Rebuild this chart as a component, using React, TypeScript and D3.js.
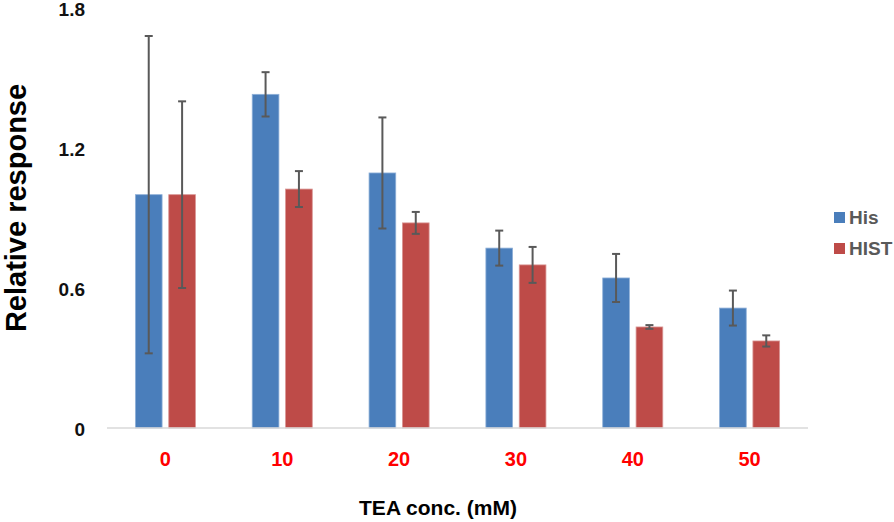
import * as d3 from 'd3'

const categories = ['0', '10', '20', '30', '40', '50']
const seriesNames = ['His', 'HIST']
const hisValues = [1.0, 1.43, 1.093, 0.771, 0.643, 0.514]
const hisErrors = [0.68, 0.095, 0.238, 0.075, 0.103, 0.075]
const histValues = [1.0, 1.024, 0.879, 0.699, 0.433, 0.373]
const histErrors = [0.4, 0.077, 0.047, 0.077, 0.008, 0.024]
const yTicks = [0, 0.6, 1.2, 1.8]

const colors: Record<string, string> = { His: '#4A7EBB', HIST: '#BE4B48' }
const strokes: Record<string, string> = { His: '#8FB0D8', HIST: '#D99694' }

const width = 894
const height = 522
const font = '"Liberation Sans", Arial, sans-serif'

export default function App() {
  const x = d3.scaleBand<string>().domain(categories).range([107, 808]).paddingInner(0.486).paddingOuter(0.243)
  const xSub = d3.scaleBand<string>().domain(seriesNames).range([0, x.bandwidth()]).paddingInner(0.2)
  const y = d3.scaleLinear().domain([0, 1.8]).range([428, 8])

  const series = [
    { name: 'His', values: hisValues, errors: hisErrors },
    { name: 'HIST', values: histValues, errors: histErrors },
  ]

  return (
    <svg width={width} height={height} style={{ position: 'absolute', left: 0, top: 0, background: '#fff' }} fontFamily={font}>
      {/* y tick labels */}
      {yTicks.map((t) => (
        <text key={t} x={85} y={y(t) + 8} textAnchor="end" fontSize={19} fontWeight="bold" fill="#111">
          {d3.format('~g')(t)}
        </text>
      ))}
      <text
        transform={`translate(26,${208}) rotate(-90)`}
        textAnchor="middle"
        fontSize={29}
        fontWeight="bold"
        fill="#000"
      >
        Relative response
      </text>

      {series.map((s) =>
        s.values.map((v, i) => {
          const bx = (x(categories[i]) ?? 0) + (xSub(s.name) ?? 0)
          return (
            <rect
              key={s.name + i}
              x={bx}
              y={y(v)}
              width={xSub.bandwidth()}
              height={y(0) - y(v)}
              fill={colors[s.name]}
              stroke={strokes[s.name]}
              strokeWidth={0.8}
            />
          )
        })
      )}

      <line x1={107} x2={808} y1={y(0)} y2={y(0)} stroke="#D9D9D9" strokeWidth={1.5} />

      {series.map((s) =>
        s.values.map((v, i) => {
          const cx = (x(categories[i]) ?? 0) + (xSub(s.name) ?? 0) + xSub.bandwidth() / 2
          const top = y(v + s.errors[i])
          const bot = y(v - s.errors[i])
          return (
            <g key={'e' + s.name + i} stroke="#595959" strokeWidth={2}>
              <line x1={cx} x2={cx} y1={top} y2={bot} />
              <line x1={cx - 4} x2={cx + 4} y1={top} y2={top} />
              <line x1={cx - 4} x2={cx + 4} y1={bot} y2={bot} />
            </g>
          )
        })
      )}

      {categories.map((c) => (
        <text
          key={c}
          x={(x(c) ?? 0) + x.bandwidth() / 2}
          y={466}
          textAnchor="middle"
          fontSize={20}
          fontWeight="bold"
          fill="#FF0000"
        >
          {c}
        </text>
      ))}
      <text x={438} y={515} textAnchor="middle" fontSize={21} fontWeight="bold" fill="#000">
        TEA conc. (mM)
      </text>

      {seriesNames.map((n, i) => (
        <g key={n} transform={`translate(834,${212 + i * 31})`}>
          <rect width={11} height={11} fill={colors[n]} />
          <text x={15} y={12} fontSize={19} fontWeight="bold" fill="#595959">
            {n}
          </text>
        </g>
      ))}
    </svg>
  )
}
